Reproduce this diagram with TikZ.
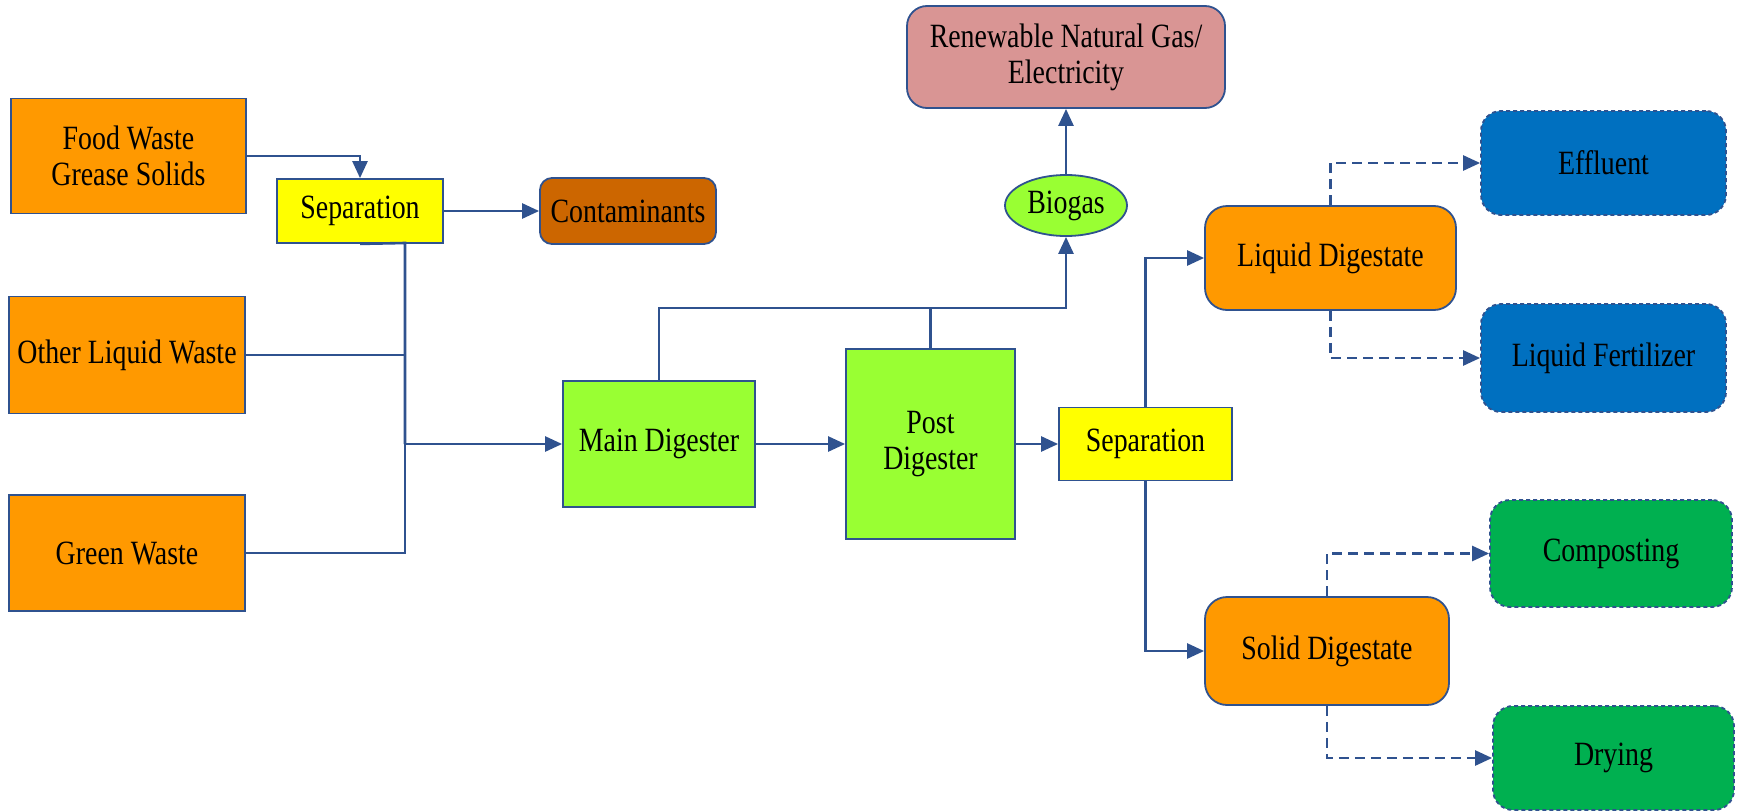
\documentclass[tikz,border=0pt]{standalone}
\usepackage{fontspec}
\setmainfont{Liberation Serif}[FakeStretch=0.82]
\usetikzlibrary{arrows.meta,shapes.geometric}
\definecolor{lineblue}{HTML}{2F528F}
\definecolor{orangebox}{HTML}{FF9900}
\definecolor{contam}{HTML}{CC6600}
\definecolor{yellowbox}{HTML}{FFFF00}
\definecolor{limebox}{HTML}{99FF33}
\definecolor{pinkbox}{HTML}{D99594}
\definecolor{bluebox}{HTML}{0070C0}
\definecolor{greenbox}{HTML}{00B050}
\tikzset{
  box/.style={draw=lineblue,line width=1.8pt,rectangle,align=center,inner sep=2pt,
    font=\fontsize{34}{36}\selectfont},
  rbox/.style={box,rounded corners=#1},
  dbox/.style={box,rounded corners=20pt,dash pattern=on 4pt off 3pt},
  conn/.style={draw=lineblue,line width=2.6pt},
  arr/.style={conn,-{Triangle[length=17pt,width=15pt]}},
  darr/.style={arr,dash pattern=on 10pt off 6pt},
}
\begin{document}
\begin{tikzpicture}[x=1pt,y=-1pt]
\useasboundingbox (0,0) rectangle (1740,811);
\node[box,fill=orangebox,minimum width=235pt,minimum height=115pt] (food) at (128.5,156) {Food Waste\\Grease Solids};
\node[box,fill=yellowbox,minimum width=166pt,minimum height=64pt] (sepa) at (360,211) {Separation};
\node[rbox=12pt,fill=contam,minimum width=176pt,minimum height=66pt] (cont) at (628,211) {Contaminants};
\node[box,fill=orangebox,minimum width=236pt,minimum height=117pt] (other) at (127,355) {Other Liquid Waste};
\node[box,fill=orangebox,minimum width=236pt,minimum height=116pt] (green) at (127,553) {Green Waste};
\node[box,fill=limebox,minimum width=192pt,minimum height=126pt] (main) at (659,444) {Main Digester};
\node[box,fill=limebox,minimum width=169pt,minimum height=190pt] (post) at (930.5,444) {Post\\Digester};
\node[box,fill=yellowbox,minimum width=173pt,minimum height=73pt] (sepb) at (1145.5,444) {Separation};
\node[ellipse,draw=lineblue,line width=1.8pt,fill=limebox,minimum width=122pt,minimum height=61pt,inner sep=0pt,font=\fontsize{34}{36}\selectfont] (biogas) at (1066,205.5) {Biogas};
\node[rbox=20pt,fill=pinkbox,minimum width=318pt,minimum height=102pt] (rng) at (1066,57) {Renewable Natural Gas/\\Electricity};
\node[rbox=22pt,fill=orangebox,minimum width=251pt,minimum height=104pt] (liq) at (1330.5,258) {Liquid Digestate};
\node[dbox,fill=bluebox,minimum width=245pt,minimum height=104pt] (eff) at (1603.5,163) {Effluent};
\node[dbox,fill=bluebox,minimum width=245pt,minimum height=108pt] (fert) at (1603.5,358) {Liquid Fertilizer};
\node[dbox,fill=greenbox,minimum width=242pt,minimum height=107pt] (comp) at (1611,553.5) {Composting};
\node[rbox=22pt,fill=orangebox,minimum width=244pt,minimum height=108pt] (sol) at (1327,651) {Solid Digestate};
\node[dbox,fill=greenbox,minimum width=241pt,minimum height=104pt] (dry) at (1613.5,758) {Drying};
\coordinate (jx) at (405,243);
\coordinate (gasy) at (0,308);
% left inputs
\draw[arr] (food.east) -| (sepa.north);
\draw[arr] (sepa.east) -- (cont.west);
\draw[conn] (sepa.south) -- (jx) -- (jx |- main.west);
\draw[conn] (other.east) -- (other.east -| jx);
\draw[conn] (green.east) -| (jx |- main.west);
\draw[arr] (jx |- main.west) -- (main.west);
% digesters
\draw[arr] (main.east) -- (main.east -| post.west);
\draw[arr] (post.east) -- (post.east -| sepb.west);
\draw[arr] (main.north) |- (gasy -| biogas.south) -- (biogas.south);
\draw[conn] (post.north) -- (post.north |- gasy);
\draw[arr] (biogas.north) -- (rng.south);
% separation outputs
\draw[arr] (sepb.north) |- (liq.west);
\draw[arr] (sepb.south) |- (sol.west);
\draw[darr] (liq.north) |- (eff.west);
\draw[darr] (liq.south) |- (fert.west);
\draw[darr] (sol.north) |- (comp.west);
\draw[darr] (sol.south) |- (dry.west);
\end{tikzpicture}
\end{document}
